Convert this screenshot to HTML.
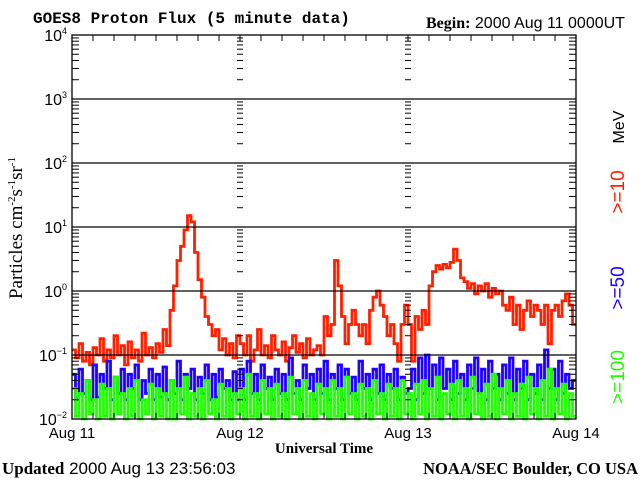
<!DOCTYPE html>
<html><head><meta charset="utf-8"><style>
html,body{margin:0;padding:0;background:#fff;width:640px;height:480px;overflow:hidden}
svg{display:block}
</style></head><body>
<svg id="chart" width="640" height="480" xmlns="http://www.w3.org/2000/svg" font-family="Liberation Sans, sans-serif">
<text x="33" y="23" font-family="Liberation Mono, monospace" font-weight="bold" font-size="16">GOES8 Proton Flux (5 minute data)</text>
<text x="426" y="28" font-size="16"><tspan font-family="Liberation Serif, serif" font-weight="bold">Begin:</tspan> 2000 Aug 11 0000UT</text>
<text transform="translate(22,228) rotate(-90)" text-anchor="middle" font-family="Liberation Serif, serif" font-size="19">Particles cm<tspan dy="-7" font-size="11">-2</tspan><tspan dy="7">s</tspan><tspan dy="-7" font-size="11">-1</tspan><tspan dy="7">sr</tspan><tspan dy="-7" font-size="11">-1</tspan></text>
<text x="324" y="453" text-anchor="middle" font-family="Liberation Serif, serif" font-weight="bold" font-size="15">Universal Time</text>
<text x="2" y="474" font-size="17"><tspan font-family="Liberation Serif, serif" font-weight="bold">Updated</tspan> 2000 Aug 13 23:56:03</text>
<text x="638" y="474" text-anchor="end" font-family="Liberation Serif, serif" font-weight="bold" font-size="16.5">NOAA/SEC Boulder, CO USA</text>
<text transform="translate(624,127) rotate(-90)" text-anchor="middle" font-size="16" fill="#000">MeV</text>
<text transform="translate(624,192) rotate(-90)" text-anchor="middle" font-size="19" fill="#ff2000">&gt;=10</text>
<text transform="translate(624,288) rotate(-90)" text-anchor="middle" font-size="19" fill="#2000ff">&gt;=50</text>
<text transform="translate(624,377) rotate(-90)" text-anchor="middle" font-size="19" fill="#20ff00">&gt;=100</text>
<g id="plot"></g>
</svg>
<script>
const dayLabels = ["Aug 11","Aug 12","Aug 13","Aug 14"];
const decades = [-2,-1,0,1,2,3,4];
const red = [0.12,0.09,0.15,0.08,0.11,0.07,0.13,0.1,0.18,0.08,0.12,0.09,0.2,0.1,0.14,0.07,0.16,0.09,0.12,0.08,0.22,0.1,0.13,0.09,0.15,0.11,0.25,0.14,
0.5,1.2,3,5,9,15,12,4,1.5,0.8,0.4,0.3,0.2,0.25,0.12,0.18,0.1,0.15,0.09,0.2,
0.15,0.1,0.2,0.08,0.12,0.25,0.1,0.14,0.09,0.2,0.12,0.1,0.16,0.08,0.13,0.2,0.11,0.15,0.09,0.18,0.1,0.12,0.14,0.1,0.4,0.2,
0.3,3,1.2,0.4,0.15,0.3,0.5,0.3,0.2,0.3,0.15,0.5,0.8,1.0,0.6,0.4,0.2,0.3,0.15,0.08,0.3,0.6,
0.3,0.08,0.4,0.25,0.5,0.3,1.2,2,2.5,2.2,2.6,2.3,2.8,4.5,3,1.6,1.4,1.1,1.3,0.9,1.2,1.0,1.3,0.8,1.1,0.9,1.0,0.6,0.5,0.8,0.3,0.6,0.25,0.5,0.7,0.4,0.6,0.5,0.3,0.6,0.15,0.5,0.6,0.4,0.7,0.9,0.6,0.3];
const blue = [0.05,0.02,0.06,0.025,0.04,0.02,0.07,0.022,0.05,0.03,0.08,0.02,0.045,0.025,0.06,0.02,0.05,0.03,0.07,0.02,0.04,0.025,0.06,0.02,0.05,0.022,0.065,0.02,
0.04,0.025,0.08,0.02,0.05,0.03,0.06,0.02,0.045,0.025,0.07,0.02,0.05,0.022,0.06,0.03,0.04,0.02,0.055,0.02,
0.06,0.02,0.08,0.025,0.05,0.02,0.07,0.03,0.045,0.02,0.06,0.025,0.05,0.02,0.09,0.025,0.04,0.02,0.07,0.03,0.05,0.02,0.06,0.025,0.08,0.02,
0.05,0.03,0.07,0.02,0.06,0.025,0.045,0.02,0.08,0.03,0.05,0.02,0.06,0.025,0.07,0.02,0.05,0.03,0.06,0.02,0.045,0.025,
0.03,0.06,0.02,0.09,0.025,0.1,0.03,0.07,0.02,0.09,0.03,0.06,0.02,0.08,0.025,0.05,0.02,0.07,0.03,0.09,0.025,0.06,0.02,0.08,0.03,0.05,0.02,0.07,0.025,0.09,0.02,0.06,0.03,0.08,0.02,0.05,0.025,0.07,0.02,0.12,0.03,0.06,0.02,0.08,0.025,0.05,0.03,0.04];
const green = [0.03,0.011,0.025,0.01,0.04,0.012,0.02,0.01,0.035,0.011,0.03,0.01,0.045,0.012,0.025,0.01,0.03,0.011,0.04,0.01,0.02,0.012,0.035,0.01,0.03,0.011,0.025,0.01,
0.04,0.01,0.03,0.012,0.045,0.01,0.025,0.011,0.03,0.01,0.04,0.012,0.02,0.01,0.035,0.011,0.03,0.01,0.025,0.012,
0.03,0.01,0.05,0.011,0.025,0.01,0.04,0.012,0.03,0.01,0.035,0.011,0.025,0.01,0.045,0.012,0.03,0.01,0.04,0.011,0.025,0.01,0.035,0.012,0.03,0.01,
0.04,0.011,0.03,0.01,0.045,0.012,0.025,0.01,0.035,0.011,0.03,0.01,0.04,0.012,0.025,0.01,0.035,0.011,0.03,0.01,0.04,0.012,
0.025,0.01,0.035,0.012,0.04,0.01,0.03,0.011,0.045,0.01,0.025,0.012,0.035,0.01,0.04,0.011,0.03,0.01,0.045,0.012,0.025,0.01,0.035,0.011,0.05,0.01,0.03,0.012,0.04,0.01,0.025,0.011,0.035,0.01,0.045,0.012,0.03,0.01,0.04,0.011,0.06,0.01,0.03,0.012,0.035,0.01,0.025,0.011];

const L=72,R=576,T=35,B=419;
const xScale = h => L + (R-L)*h/72;
const yScale = v => B - (Math.log10(v)+2)*(B-T)/6;
const NS='http://www.w3.org/2000/svg';
const plot=document.getElementById('plot');
function mk(tag,attrs){const e=document.createElementNS(NS,tag);for(const k in attrs)e.setAttribute(k,attrs[k]);plot.appendChild(e);return e;}

function series(arr,color,name){
  let d='';
  arr.forEach((v,i)=>{
    const x0=xScale(i*0.5).toFixed(1), x1=xScale((i+1)*0.5).toFixed(1), y=yScale(v).toFixed(1);
    d+=(i===0?'M':'L')+x0+','+y+' L'+x1+','+y+' ';
  });
  const p=mk('path',{d:d,fill:'none',stroke:color,'stroke-width':2.8,'stroke-linejoin':'miter'});
  
  
}
series(red,'#ff2000','series-10mev');
series(blue,'#2000ff','series-50mev');
series(green,'#20ff00','series-100mev');

decades.forEach(d=>{
  const y=yScale(Math.pow(10,d));
  if(d>-2&&d<4){const g=mk('line',{x1:L,x2:R,y1:y,y2:y,stroke:'#000','stroke-width':1.3});
  
  }
  const t=mk('text',{x:L-5,y:y+6,'text-anchor':'end','font-size':16});
  
  
  t.innerHTML='10<tspan dy="-7" font-size="9">'+(d<0?'−'+(-d):d)+'</tspan>';
});
const verticals=[[L,0,7],[xScale(24),-3,3],[xScale(48),-3,3],[R,-7,0]];
for(let d=-2;d<4;d++){for(let m=2;m<=10;m++){
  const y=yScale(m*Math.pow(10,d));
  verticals.forEach(([x,a,b])=>{
    const tk=mk('line',{x1:x+a,x2:x+b,y1:y,y2:y,stroke:'#000','stroke-width':1});
    
    });
}}
const fr=mk('rect',{x:L,y:T,width:R-L,height:B-T,fill:'none',stroke:'#000','stroke-width':1.3});


for(let h=3;h<72;h+=3){
  const x=xScale(h);
  const t1=mk('line',{x1:x,x2:x,y1:B,y2:B-6,stroke:'#000'});
  
  
  const t2=mk('line',{x1:x,x2:x,y1:T,y2:T+6,stroke:'#000'});
  
  
}
dayLabels.forEach((lab,i)=>{
  const t=mk('text',{x:xScale(i*24),y:438,'text-anchor':'middle','font-size':15});
  
  
  t.textContent=lab;
});
</script>
</body></html>
